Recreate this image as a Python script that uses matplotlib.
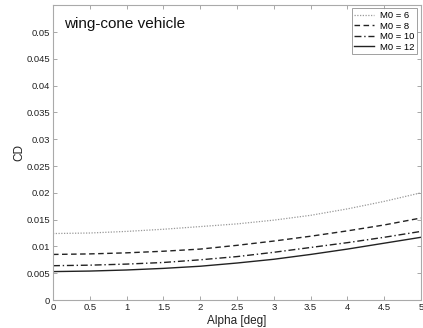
import matplotlib
matplotlib.use("Agg")
import matplotlib.pyplot as plt

plt.rcParams['font.family'] = ['Liberation Sans', 'DejaVu Sans']

alpha = [0, 0.5, 1, 1.5, 2, 2.5, 3, 3.5, 4, 4.5, 5]
cd_m6 = [0.0124, 0.0125, 0.0128, 0.0132, 0.0137, 0.0142, 0.0149, 0.0158, 0.0170, 0.0184, 0.0200]
cd_m8 = [0.0085, 0.0086, 0.0088, 0.0091, 0.0095, 0.0102, 0.0110, 0.0119, 0.0129, 0.0140, 0.0153]
cd_m10 = [0.0064, 0.0065, 0.0067, 0.0070, 0.0075, 0.0081, 0.0089, 0.0098, 0.0107, 0.0117, 0.0128]
cd_m12 = [0.0053, 0.0054, 0.0056, 0.0059, 0.0063, 0.0069, 0.0076, 0.0085, 0.0095, 0.0106, 0.0117]
labels = ['M0 = 6', 'M0 = 8', 'M0 = 10', 'M0 = 12']
xticks = [0, 0.5, 1, 1.5, 2, 2.5, 3, 3.5, 4, 4.5, 5]
xticklabels = ['0', '0.5', '1', '1.5', '2', '2.5', '3', '3.5', '4', '4.5', '5']
yticks = [0, 0.005, 0.01, 0.015, 0.02, 0.025, 0.03, 0.035, 0.04, 0.045, 0.05]
yticklabels = ['0', '0.005', '0.01', '0.015', '0.02', '0.025', '0.03', '0.035', '0.04', '0.045', '0.05']

fig = plt.figure(figsize=(4.23, 3.28), dpi=100)
ax = fig.add_axes([53/423, 28/328, 368/423, 295.3/328])

ax.plot(alpha, cd_m6, linestyle=(0, (1, 1.2)), color='#999999', lw=0.9, label=labels[0])
ax.plot(alpha, cd_m8, linestyle=(0, (4, 2.5)), color='#222222', lw=1.0, label=labels[1])
ax.plot(alpha, cd_m10, linestyle=(0, (5, 2, 1, 2)), color='#222222', lw=1.0, label=labels[2])
ax.plot(alpha, cd_m12, linestyle='-', color='#222222', lw=1.0, label=labels[3])

ax.set_xlim(0, 5)
ax.set_ylim(0, 0.0551)
ax.set_xticks(xticks)
ax.set_xticklabels(xticklabels)
ax.set_yticks(yticks)
ax.set_yticklabels(yticklabels)
ax.tick_params(direction='in', top=True, right=True, length=3, width=0.6,
               colors='#999999', labelcolor='#222222', labelsize=6.8, pad=2)
for s in ax.spines.values():
    s.set_color('#aaaaaa')
    s.set_linewidth(0.8)

ax.set_xlabel('Alpha [deg]', fontsize=8.5, color='#222222', labelpad=2)
ax.set_ylabel('CD', fontsize=8.5, color='#222222', labelpad=1)
ax.text(0.03, 0.935, 'wing-cone vehicle', transform=ax.transAxes, fontsize=11,
        color='#111111', va='center', ha='left')

leg = ax.legend(loc='upper right', fontsize=6.8, frameon=True, fancybox=False,
                edgecolor='#888888', handlelength=2.1, borderpad=0.3,
                labelspacing=0.15, handletextpad=0.6, borderaxespad=0.4)
leg.get_frame().set_linewidth(0.7)

fig.savefig('out.png', dpi=100)
